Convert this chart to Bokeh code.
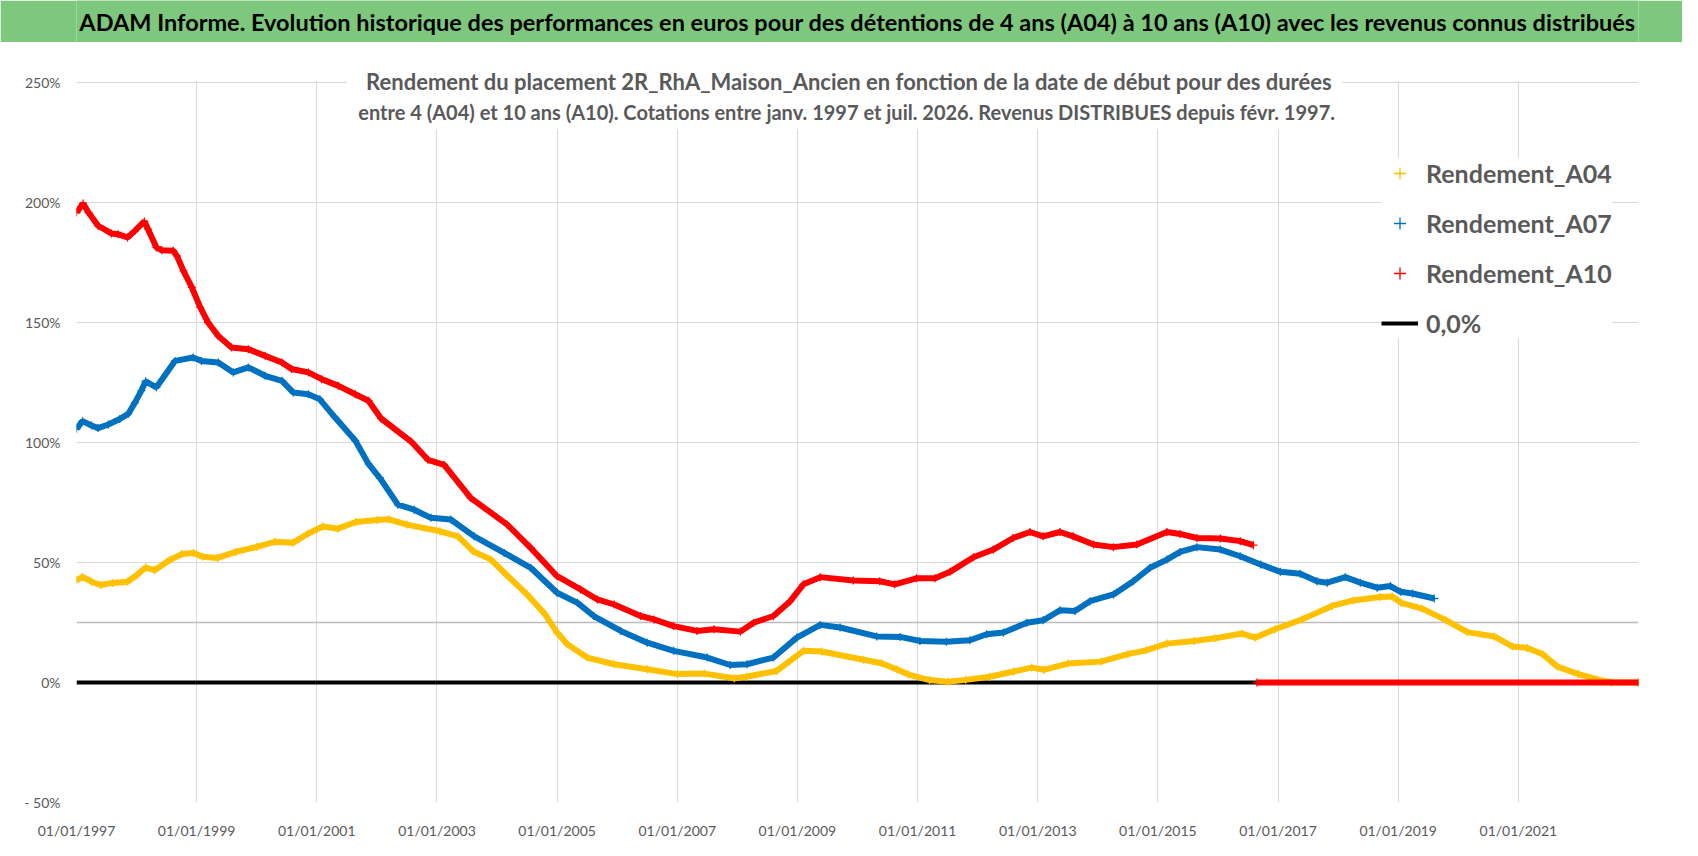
from bokeh.plotting import figure
from bokeh.models import (FixedTicker, Span, BoxAnnotation, Label, Legend, LegendItem, Range1d)
from bokeh.layouts import column
from bokeh.core.properties import value
from bokeh.embed import file_html
from bokeh.resources import INLINE

nan = float("nan")

# Start date of the holding period (decimal year) and return in %
a04_t = [1997.00, 1997.10, 1997.25, 1997.40, 1997.60, 1997.85, 1998.00, 1998.15, 1998.30, 1998.55,
         1998.75, 1998.95, 1999.10, 1999.35, 1999.65, 2000.00, 2000.30, 2000.60, 2000.85, 2001.10,
         2001.35, 2001.65, 2002.00, 2002.20, 2002.50, 2003.05, 2003.35, 2003.60, 2003.90, 2004.15,
         2004.50, 2004.80, 2005.00, 2005.17, 2005.50, 2005.95, 2006.50, 2007.00, 2007.45, 2007.95,
         2008.15, 2008.65, 2009.10, 2009.40, 2010.10, 2010.40, 2010.65, 2010.85, 2011.20, 2011.50,
         2011.80, 2012.20, 2012.60, 2012.90, 2013.10, 2013.50, 2014.05, 2014.50, 2014.80, 2015.15,
         2015.60, 2015.95, 2016.40, 2016.62, 2016.95, 2017.40, 2017.90, 2018.25, 2018.70, 2018.90,
         2019.05, 2019.40, 2019.80, 2020.15, 2020.60, 2020.90, 2021.15, 2021.40, 2021.65, 2022.00,
         2022.30, 2022.55, 2023.00]
a04_v = [42.5, 44.0, 42.0, 40.6, 41.5, 42.0, 44.7, 47.9, 46.8, 51.0,
         53.5, 54.0, 52.4, 51.9, 54.4, 56.5, 58.6, 58.2, 62.0, 65.0,
         64.1, 66.9, 67.7, 68.0, 65.8, 63.0, 60.9, 54.7, 51.2, 45.0,
         36.7, 28.4, 20.8, 15.9, 10.4, 7.6, 5.5, 3.5, 3.7, 1.8,
         2.4, 4.8, 13.2, 12.9, 9.5, 8.0, 5.5, 3.3, 1.0, 0.3,
         1.1, 2.4, 4.6, 6.2, 5.3, 7.9, 8.7, 11.8, 13.4, 16.2,
         17.3, 18.4, 20.4, 18.7, 22.2, 26.3, 31.9, 34.2, 35.6, 35.8,
         33.2, 30.8, 25.9, 21.0, 19.2, 15.0, 14.4, 11.9, 6.6, 3.5,
         1.4, 0.0, 0.0]

a07_t = [1997.00, 1997.10, 1997.25, 1997.36, 1997.53, 1997.72, 1997.86, 1997.97, 1998.08, 1998.15,
         1998.33, 1998.64, 1998.94, 1999.08, 1999.36, 1999.61, 1999.86, 2000.14, 2000.42, 2000.61,
         2000.86, 2001.05, 2001.30, 2001.64, 2001.86, 2002.05, 2002.35, 2002.62, 2002.90, 2003.23,
         2003.62, 2004.12, 2004.56, 2005.00, 2005.34, 2005.61, 2006.06, 2006.50, 2006.94, 2007.50,
         2007.88, 2008.16, 2008.60, 2008.99, 2009.38, 2009.71, 2010.32, 2010.71, 2011.04, 2011.48,
         2011.87, 2012.15, 2012.43, 2012.82, 2013.09, 2013.37, 2013.62, 2013.87, 2014.26, 2014.59,
         2014.87, 2015.15, 2015.37, 2015.65, 2016.04, 2016.37, 2016.71, 2017.04, 2017.37, 2017.65,
         2017.82, 2018.12, 2018.37, 2018.65, 2018.87, 2019.04, 2019.24, 2019.60]
a07_v = [105.7, 108.9, 107.1, 106.0, 107.5, 109.8, 111.9, 116.5, 121.6, 125.5,
         123.0, 134.0, 135.4, 134.0, 133.3, 129.2, 131.3, 127.8, 125.7, 120.8,
         120.1, 118.0, 110.5, 100.8, 91.1, 85.2, 74.1, 72.0, 68.6, 67.9,
         60.9, 54.0, 47.8, 37.4, 33.2, 27.7, 21.5, 16.6, 13.2, 10.4,
         7.3, 7.6, 10.4, 18.7, 24.0, 22.9, 19.2, 19.0, 17.3, 17.0,
         17.6, 20.1, 20.8, 24.9, 25.9, 30.1, 29.8, 33.9, 36.7, 42.2,
         47.8, 51.2, 54.4, 56.4, 55.4, 52.6, 49.2, 46.1, 45.3, 42.2,
         41.6, 43.9, 41.6, 39.5, 40.2, 37.8, 37.1, 35.0]

a10_t = [1997.00, 1997.11, 1997.20, 1997.36, 1997.58, 1997.69, 1997.85, 1997.97, 1998.13, 1998.19,
         1998.33, 1998.42, 1998.61, 1998.67, 1998.78, 1998.92, 1999.06, 1999.19, 1999.36, 1999.58,
         1999.86, 2000.14, 2000.42, 2000.58, 2000.86, 2001.08, 2001.36, 2001.64, 2001.86, 2002.07,
         2002.57, 2002.85, 2003.12, 2003.56, 2004.17, 2004.56, 2005.00, 2005.39, 2005.67, 2005.95,
         2006.39, 2006.61, 2006.94, 2007.33, 2007.61, 2008.05, 2008.27, 2008.60, 2008.88, 2009.10,
         2009.38, 2009.93, 2010.37, 2010.62, 2010.98, 2011.29, 2011.54, 2011.93, 2012.26, 2012.59,
         2012.87, 2013.09, 2013.37, 2013.59, 2013.93, 2014.26, 2014.65, 2015.15, 2015.37, 2015.65,
         2016.04, 2016.37, 2016.59, 2016.62, 2016.65, 2023.00]
a10_v = [195.8, 199.6, 195.8, 190.3, 187.1, 186.8, 185.4, 188.2, 192.1, 188.9,
         181.3, 180.1, 179.9, 177.8, 171.5, 164.6, 156.3, 150.0, 144.4, 139.6,
         138.9, 136.1, 133.3, 130.6, 129.2, 126.4, 123.6, 120.1, 117.4, 110.0,
         100.4, 92.8, 90.7, 76.9, 65.8, 56.1, 44.3, 38.8, 34.6, 32.5,
         27.7, 26.3, 23.5, 21.5, 22.2, 21.2, 24.9, 27.7, 33.9, 40.9,
         43.9, 42.5, 42.2, 40.9, 43.4, 43.4, 46.1, 52.2, 55.4, 60.2,
         62.7, 60.9, 62.7, 60.9, 57.5, 56.4, 57.5, 62.7, 61.9, 60.2,
         60.0, 58.9, 57.2, nan, 0.0, 0.0]

zero_t = [1997.0, 2023.0]
zero_v = [0.0, 0.0]

x_ticks = [1997, 1999, 2001, 2003, 2005, 2007, 2009, 2011, 2013, 2015, 2017, 2019, 2021]
y_ticks = [-50, 0, 50, 100, 150, 200, 250]
y_labels = ["- 50%", "0%", "50%", "100%", "150%", "200%", "250%"]

title = ("ADAM Informe. Evolution historique des performances en euros pour des détentions "
         "de 4 ans (A04) à 10 ans (A10) avec les revenus connus distribués")
sub1 = "Rendement du placement 2R_RhA_Maison_Ancien en fonction de la date de début pour des durées"
sub2 = ("entre 4 (A04) et 10 ans (A10).  Cotations entre janv. 1997 et juil. 2026. "
        "Revenus DISTRIBUES depuis févr. 1997.")

GREY = "#595959"

# green title band
band = figure(width=1682, height=42, x_range=(0, 1), y_range=(0, 1),
              toolbar_location=None, output_backend="svg",
              x_axis_location=None, y_axis_location=None, min_border=0)
band.grid.visible = False
band.outline_line_color = None
band.background_fill_color = "#7ec87e"
band.border_fill_color = "#7ec87e"
band.text(x=[0.5], y=[0.5], text=[title], text_align="center", text_baseline="middle",
          text_font=value("Lato"), text_font_style="bold", text_font_size="23.5px",
          text_color="black")

# y range goes a bit above 250% so the subtitle can sit inside the frame
p = figure(width=1682, height=806, x_range=Range1d(1997, 2023), y_range=Range1d(-50, 260),
           toolbar_location=None, output_backend="svg",
           min_border_left=76, min_border_right=44, min_border_top=16, min_border_bottom=46)
p.outline_line_color = None
p.background_fill_color = "white"

p.xaxis.ticker = FixedTicker(ticks=x_ticks)
p.xaxis.major_label_overrides = {t: "01/01/%d" % t for t in x_ticks}
p.yaxis.ticker = FixedTicker(ticks=y_ticks)
p.yaxis.major_label_overrides = dict(zip(y_ticks, y_labels))
for ax in (p.xaxis, p.yaxis):
    ax.axis_line_color = None
    ax.major_tick_line_color = None
    ax.minor_tick_line_color = None
    ax.major_tick_in = 0
    ax.major_tick_out = 0
    ax.major_label_text_color = GREY
    ax.major_label_text_font = "Lato"
    ax.major_label_text_font_size = "14px"
p.xaxis.major_label_standoff = 19
p.yaxis.major_label_standoff = 16
p.xgrid.grid_line_color = "#d9d9d9"
p.ygrid.grid_line_color = "#d9d9d9"
p.add_layout(Span(location=25, dimension="width", line_color="#bcbcbc", line_width=1.5,
                  level="underlay"))

# blank strip above 250%, and the white block behind the subtitle
p.add_layout(BoxAnnotation(bottom=250.5, fill_color="white", fill_alpha=1, line_color=None))
p.add_layout(BoxAnnotation(left=2001.5, right=2018.07, bottom=230.5, top=250.5,
                           fill_color="white", fill_alpha=1, line_color=None))

r0 = p.line(zero_t, zero_v, line_color="black", line_width=4)
series = [(a04_t, a04_v, "#FFC000", "Rendement_A04"),
          (a07_t, a07_v, "#0070C0", "Rendement_A07"),
          (a10_t, a10_v, "#FF0000", "Rendement_A10")]
items = []
for t, v, c, name in series:
    p.line(t, v, line_color=c, line_width=6)
    m = p.scatter(t, v, marker="cross", size=8, line_color=c, line_width=1.3)
    items.append(LegendItem(label=name, renderers=[m]))
items.append(LegendItem(label="0,0%", renderers=[r0]))

for txt, yy, fs in ((sub1, 250.3, "22px"), (sub2, 237.8, "20px")):
    p.add_layout(Label(x=2009.86, y=yy, text=txt, text_align="center", text_baseline="middle",
                       text_font="Lato", text_font_style="bold", text_font_size=fs,
                       text_color=GREY))

legend = Legend(items=items, location=(1305, 464),
                background_fill_color="white", background_fill_alpha=1,
                border_line_color=None, padding=10, margin=0, spacing=20,
                glyph_width=37, glyph_height=30, label_height=30, label_standoff=8,
                label_text_font="Lato", label_text_font_style="bold",
                label_text_font_size="25px", label_text_color=GREY)
p.add_layout(legend)

layout = column(band, p, spacing=0)
open("out.html", "w").write(file_html(layout, INLINE))
